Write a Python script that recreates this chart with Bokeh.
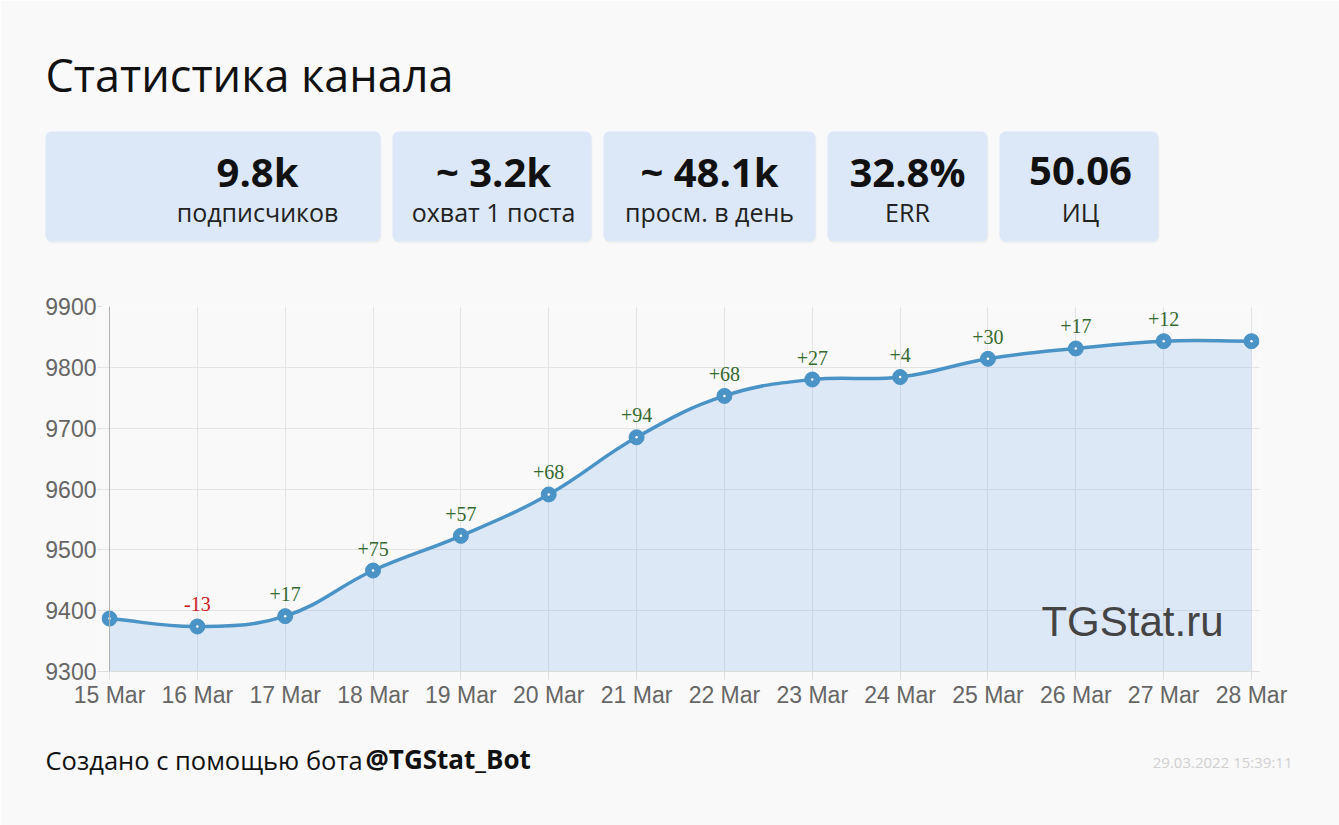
import numpy as np
from bokeh.plotting import figure
from bokeh.models import Range1d, FixedTicker, Label, Span
from bokeh.core.properties import value
from bokeh.embed import file_html
from bokeh.resources import INLINE

# ---------------- data ----------------
dates = ["15 Mar", "16 Mar", "17 Mar", "18 Mar", "19 Mar", "20 Mar", "21 Mar",
         "22 Mar", "23 Mar", "24 Mar", "25 Mar", "26 Mar", "27 Mar", "28 Mar"]
subscribers = [9387, 9374, 9391, 9466, 9523, 9591, 9685,
               9753, 9780, 9784, 9814, 9831, 9843, 9843]
y_ticks = [9300, 9400, 9500, 9600, 9700, 9800, 9900]
card_values = ["9.8k", "~ 3.2k", "~ 48.1k", "32.8%", "50.06"]
card_labels = ["подписчиков", "охват 1 поста", "просм. в день", "ERR", "ИЦ"]
title_text = "Статистика канала"
footer_regular = "Создано с помощью бота"
footer_bold = "@TGStat_Bot"
timestamp = "29.03.2022 15:39:11"
watermark = "TGStat.ru"

# ---------------- style / layout ----------------
W, H = 1339, 825
BG = "#f9f9f9"
CARD = "#dce8f8"
BLUE = "#4a93c6"
SANS = "Open Sans"
AX = "Liberation Sans"
BL = 0.43                  # baseline correction (fraction of font size)

L, T = 101, 306            # frame left / top (canvas px)
FW, FH = 1158, 365         # frame width / height
n = len(subscribers)
xs = list(range(n))
day_px = (FW - 16) / (n - 1)
pad = 8 / day_px
x_start, x_end = -pad, n - 1 + pad
y0, y1 = y_ticks[0], y_ticks[-1]
unit_px = FH / (y1 - y0)


def dx(px):
    return x_start + (px - L) / FW * (x_end - x_start)


def dy(py):
    return y1 - (py - T) / FH * (y1 - y0)


def base(py, fs):
    return dy(py - BL * fs)


p = figure(width=W, height=H, x_range=Range1d(x_start, x_end), y_range=Range1d(y0, y1),
           output_backend="svg", toolbar_location=None,
           min_border_left=L, min_border_right=W - L - FW,
           min_border_top=T, min_border_bottom=H - T - FH,
           background_fill_color=BG, border_fill_color=BG, outline_line_color=None)

# ---------------- smooth curve (Chart.js style spline, tension 0.4) ----------------
P = np.column_stack([np.array(xs) * day_px, np.array(subscribers, dtype=float) * unit_px])
tension = 0.4
cprev, cnext = [], []
for i in range(n):
    prv = P[i - 1] if i > 0 else P[i]
    nxt = P[i + 1] if i < n - 1 else P[i]
    cur = P[i]
    d01 = np.hypot(*(cur - prv))
    d12 = np.hypot(*(nxt - cur))
    tot = d01 + d12
    s01 = d01 / tot if tot else 0
    s12 = d12 / tot if tot else 0
    cprev.append(cur - tension * s01 * (nxt - prv))
    cnext.append(cur + tension * s12 * (nxt - prv))
cprev = np.array(cprev) / [day_px, unit_px]
cnext = np.array(cnext) / [day_px, unit_px]
Pd = P / [day_px, unit_px]

tt = np.linspace(0, 1, 24)[:, None]
fx, fy = [], []
for i in range(n - 1):
    b0, b1, b2, b3 = Pd[i], cnext[i], cprev[i + 1], Pd[i + 1]
    B = (1 - tt) ** 3 * b0 + 3 * (1 - tt) ** 2 * tt * b1 + 3 * (1 - tt) * tt ** 2 * b2 + tt ** 3 * b3
    fx.extend(B[:, 0]); fy.extend(B[:, 1])
fx = fx + [xs[-1], xs[0]]
fy = fy + [y0, y0]
p.patch(fx, fy, fill_color="#6da4ef", fill_alpha=0.2, line_color=None)

p.bezier(x0=Pd[:-1, 0], y0=Pd[:-1, 1], x1=Pd[1:, 0], y1=Pd[1:, 1],
         cx0=cnext[:-1, 0], cy0=cnext[:-1, 1], cx1=cprev[1:, 0], cy1=cprev[1:, 1],
         line_color=BLUE, line_width=3.5)
p.scatter(xs, subscribers, size=15, fill_color=BLUE, line_color=BLUE)
p.scatter(xs, subscribers, size=2.5, fill_color="white", line_color=None)

# day-over-day change labels
lx, ly, lt, lc = [], [], [], []
for i in range(1, n):
    d = subscribers[i] - subscribers[i - 1]
    if d == 0:
        continue
    lx.append(xs[i]); ly.append(subscribers[i])
    lt.append(f"+{d}" if d > 0 else f"{d}")
    lc.append("#356a2f" if d > 0 else "#cc2020")
p.text(x=lx, y=ly, text=lt, text_color=lc, text_font=value("Liberation Serif"),
       text_font_size="20px", text_align="center", text_baseline="alphabetic", y_offset=-22)

p.add_layout(Label(x=dx(1223), y=dy(637 - 16), text=watermark, text_align="right",
                   text_baseline="alphabetic", text_font=AX, text_font_size="42px",
                   text_color="#444444"))
p.add_layout(Span(location=0, dimension="height", line_color="#b0b0b0", line_width=1))

# axes
p.xaxis.ticker = FixedTicker(ticks=xs)
p.xaxis.major_label_overrides = {i: d for i, d in enumerate(dates)}
p.yaxis.ticker = FixedTicker(ticks=y_ticks)
for ax in (p.xaxis, p.yaxis):
    ax.major_label_text_font = AX
    ax.major_label_text_font_size = "23px"
    ax.major_label_text_color = "#666666"
    ax.minor_tick_line_color = None
    ax.major_tick_in = 0
    ax.major_tick_line_color = "#dddddd"
p.yaxis.major_tick_out = 4
p.yaxis.major_label_standoff = 1
p.yaxis.axis_line_color = None
p.xaxis.major_tick_out = 8
p.xaxis.major_label_standoff = 2
p.xaxis.axis_line_color = "#dddddd"
p.grid.grid_line_color = "#e4e4e4"

# ---------------- header (glyphs at overlay level, outside the frame) ----------------
OV = "overlay"
p.text(x=[dx(45)], y=[base(93, 45)], text=[title_text], text_font=value(SANS),
       text_font_size="45px", text_color="#111111", text_baseline="alphabetic", level=OV)

card_left = [45, 392, 603, 827, 999]
card_right = [380, 591, 815, 987, 1158]
card_top, card_bottom = 131, 241
card_text_x = [257, 493, 709, 907, 1080]
p.quad(left=[dx(l + 1) for l in card_left], right=[dx(r + 1) for r in card_right],
       top=[dy(card_top + 2)] * 5, bottom=[dy(card_bottom + 2)] * 5,
       fill_color="#000000", fill_alpha=0.035, line_color=None, border_radius=6, level=OV)
p.quad(left=[dx(l) for l in card_left], right=[dx(r) for r in card_right],
       top=[dy(card_top)] * 5, bottom=[dy(card_bottom)] * 5,
       fill_color=CARD, line_color=None, border_radius=6, level=OV)
p.text(x=[dx(c) for c in card_text_x], y=[base(188, 40)] * 5, text=card_values,
       text_font=value(SANS), text_font_size="40px", text_font_style="bold",
       text_color="#111111", text_align="center", text_baseline="alphabetic", level=OV)
p.text(x=[dx(c) for c in card_text_x], y=[base(222, 25)] * 5, text=card_labels,
       text_font=value(SANS), text_font_size="25px", text_color="#222222",
       text_align="center", text_baseline="alphabetic", level=OV)

# ---------------- footer ----------------
p.text(x=[dx(45)], y=[base(770, 25.5)], text=[footer_regular], text_font=value(SANS),
       text_font_size="25.5px", text_color="#111111", text_baseline="alphabetic", level=OV)
p.text(x=[dx(365)], y=[base(770, 26)], text=[footer_bold], text_font=value(SANS),
       text_font_style="bold", text_font_size="26px", text_color="#111111",
       text_baseline="alphabetic", level=OV)
p.text(x=[dx(1292)], y=[base(768, 15)], text=[timestamp], text_font=value(SANS),
       text_font_size="15px", text_color="#d0d0d0", text_align="right",
       text_baseline="alphabetic", level=OV)

open("out.html", "w").write(file_html(p, INLINE))
